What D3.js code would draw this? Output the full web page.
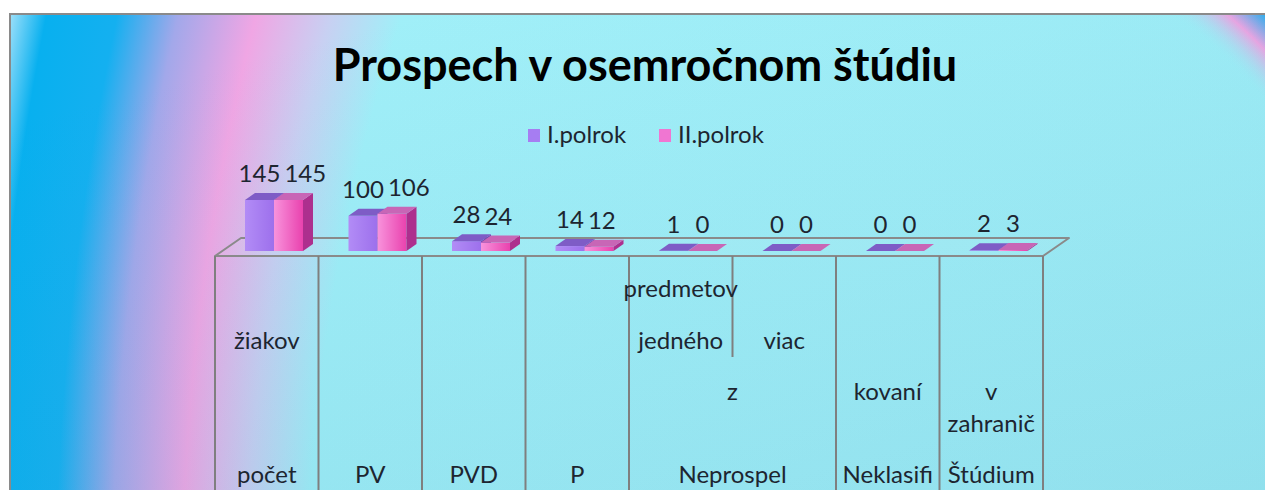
<!DOCTYPE html>
<html>
<head>
<meta charset="utf-8">
<script src="https://cdn.jsdelivr.net/npm/d3@7"></script>
<style>
	html, body { margin: 0; padding: 0; background: #fff; }
	svg { display: block; }
	text { font-family: Lato, "Open Sans", sans-serif; }
</style>
</head>
<body>
<div class="container"></div>
<script>
	// chart values
	var categories = ["počet žiakov", "PV", "PVD", "P", "Neprospel z jedného", "Neprospel z viac", "Neklasifikovaní", "Štúdium v zahraničí"];
	var seriesNames = ["I.polrok", "II.polrok"];
	var polrok1 = [145, 100, 28, 14, 1, 0, 0, 2];
	var polrok2 = [145, 106, 24, 12, 0, 0, 0, 3];

	// multi-level category labels: [text, first category, span]
	var labelsTop = [["predmetov", 4, 1]];
	var labelsUpper = [["žiakov", 0, 1], ["jedného", 4, 1], ["viac", 5, 1]];
	var labelsMid = [["z", 4, 2], ["kovaní", 6, 1], ["v", 7, 1]];
	var labelsWrap = [["zahranič", 7, 1]];
	var labelsBottom = [["počet", 0, 1], ["PV", 1, 1], ["PVD", 2, 1], ["P", 3, 1], ["Neprospel", 4, 2], ["Neklasifi", 6, 1], ["Štúdium", 7, 1]];

	var iWidth = 1265;
	var iHeight = 490;

	var oSVG = d3.select(".container")
		.append("svg")
		.attr("width", iWidth)
		.attr("height", iHeight);

	var defs = oSVG.append("defs");

	// elliptical background gradient (cyan centre, pink ring, blue rim)
	var bg = defs.append("radialGradient")
		.attr("id", "bgGrad")
		.attr("gradientUnits", "userSpaceOnUse")
		.attr("cx", 0).attr("cy", 0).attr("r", 1)
		.attr("gradientTransform", "translate(860,620) scale(936,1827)");
	[[0, "#a3f0f9"], [0.59, "#a0eff8"], [0.655, "#c8d0f2"], [0.725, "#f0a6e4"], [0.8, "#a2a8ea"], [0.86, "#14b0f0"], [0.93, "#08b0ef"], [0.985, "#e6f7ff"]]
		.forEach(function(s) {
			bg.append("stop").attr("offset", s[0]).attr("stop-color", s[1]);
		});

	// top right corner ring
	var corner = defs.append("radialGradient")
		.attr("id", "cornerGrad")
		.attr("gradientUnits", "userSpaceOnUse")
		.attr("cx", 900).attr("cy", 400).attr("r", 535);
	[[0, "#a0eff8", 0], [0.88, "#a0eff8", 0], [0.945, "#f0a6e4", 1], [1, "#10b0f0", 1]]
		.forEach(function(s) {
			corner.append("stop").attr("offset", s[0]).attr("stop-color", s[1]).attr("stop-opacity", s[2]);
		});

	var shade = defs.append("linearGradient")
		.attr("id", "shadeGrad")
		.attr("x1", 0.3).attr("y1", 0).attr("x2", 1).attr("y2", 1);
	shade.append("stop").attr("offset", 0).attr("stop-color", "#3a8fb0").attr("stop-opacity", 0);
	shade.append("stop").attr("offset", 1).attr("stop-color", "#3a8fb0").attr("stop-opacity", 0.16);

	function hGrad(id, c1, c2) {
		var g = defs.append("linearGradient").attr("id", id)
			.attr("x1", 0).attr("y1", 0).attr("x2", 1).attr("y2", 0);
		g.append("stop").attr("offset", 0).attr("stop-color", c1);
		g.append("stop").attr("offset", 1).attr("stop-color", c2);
	}
	hGrad("front0", "#b28cf6", "#9d70ec");
	hGrad("front1", "#f893dc", "#e942ae");

	var colors = [
		{ front: "url(#front0)", top: "#7e5cc6", side: "#6f48b4", legend: "#a67df2" },
		{ front: "url(#front1)", top: "#c866b6", side: "#ad2f8e", legend: "#f076d2" }
	];

	// background + frame
	oSVG.append("rect")
		.attr("x", 10).attr("y", 14)
		.attr("width", iWidth).attr("height", iHeight)
		.attr("fill", "url(#bgGrad)");
	oSVG.append("rect")
		.attr("x", 1100).attr("y", 14)
		.attr("width", 170).attr("height", 186)
		.attr("fill", "url(#cornerGrad)");
	oSVG.append("rect")
		.attr("x", 10).attr("y", 14)
		.attr("width", iWidth).attr("height", iHeight)
		.attr("fill", "url(#shadeGrad)");
	oSVG.append("rect")
		.attr("x", 10).attr("y", 14)
		.attr("width", iWidth + 10).attr("height", iHeight)
		.attr("fill", "none")
		.attr("stroke", "#8a8a8a")
		.attr("stroke-width", 2);

	// title
	oSVG.append("text")
		.attr("x", 645)
		.attr("y", 81)
		.attr("text-anchor", "middle")
		.style("font-size", "45px")
		.style("font-weight", "bold")
		.style("fill", "#000")
		.text("Prospech v osemročnom štúdiu");

	// legend
	var legendX = d3.scalePoint().domain(seriesNames).range([528, 659]);
	var legend = oSVG.selectAll("g.legend")
		.data(seriesNames)
		.enter()
		.append("g")
		.attr("class", "legend")
		.attr("transform", function(d) {
			return "translate(" + legendX(d) + ",129)";
		});
	legend.append("rect")
		.attr("width", 12).attr("height", 13)
		.attr("fill", function(d, i) {
			return colors[i].legend;
		});
	legend.append("text")
		.attr("x", 19).attr("y", 14)
		.style("font-size", "24px")
		.style("fill", "#1d2530")
		.text(function(d) {
			return d;
		});

	// scales
	var x = d3.scaleBand().domain(categories).range([215, 1043]);
	var xSeries = d3.scaleBand().domain(seriesNames).range([30, 88]);
	var y = d3.scaleLinear().domain([0, 145]).range([251, 200]);
	var depthX = 10, depthY = -7;
	var floorX = 26, floorY = -18;
	var floorFront = 256;

	// floor
	var x0 = x.range()[0], x1 = x.range()[1];
	oSVG.append("path")
		.attr("d", "M" + x0 + "," + floorFront + "L" + x1 + "," + floorFront +
			"L" + (x1 + floorX) + "," + (floorFront + floorY) +
			"L" + (x0 + floorX) + "," + (floorFront + floorY) + "Z")
		.attr("fill", "rgba(255,255,255,0.06)")
		.attr("stroke", "#8a8a8a")
		.attr("stroke-width", 2)
		.attr("stroke-linejoin", "round");

	// category dividers
	var bounds = categories.map(function(c) { return x(c); }).concat([x1]);
	oSVG.selectAll("line.div")
		.data(bounds)
		.enter()
		.append("line")
		.attr("class", "div")
		.attr("x1", function(d) { return d; })
		.attr("x2", function(d) { return d; })
		.attr("y1", floorFront)
		.attr("y2", function(d, i) {
			return i === 5 ? 357 : iHeight + 5;
		})
		.attr("stroke", "#7f7f7f")
		.attr("stroke-width", 2);

	// bars
	var aData = [];
	categories.forEach(function(c, i) {
		aData.push({ cat: c, s: 0, value: polrok1[i] });
		aData.push({ cat: c, s: 1, value: polrok2[i] });
	});

	var bars = oSVG.selectAll("g.bar")
		.data(aData)
		.enter()
		.append("g")
		.attr("class", "bar");

	bars.each(function(d) {
		var g = d3.select(this);
		var bx = x(d.cat) + xSeries(seriesNames[d.s]);
		var w = xSeries.bandwidth();
		var yb = y(0);
		var yt = y(d.value);
		d.cx = bx + w / 2;
		d.topY = yt + depthY;
		if (d.value > 0) {
			g.append("rect")
				.attr("x", bx).attr("y", yt)
				.attr("width", w).attr("height", yb - yt)
				.attr("fill", colors[d.s].front);
			g.append("path")
				.attr("d", "M" + (bx + w) + "," + yt + "l" + depthX + "," + depthY +
					"L" + (bx + w + depthX) + "," + (yb + depthY) + "L" + (bx + w) + "," + yb + "Z")
				.attr("fill", colors[d.s].side);
		}
		g.append("path")
			.attr("d", "M" + bx + "," + yt + "h" + w + "l" + depthX + "," + depthY +
				"h" + (-w) + "Z")
			.attr("fill", colors[d.s].top);
	});

	// data labels, second series pushed right when they would overlap
	var labels = oSVG.selectAll("text.val")
		.data(aData)
		.enter()
		.append("text")
		.attr("class", "val")
		.attr("text-anchor", "middle")
		.attr("y", function(d) { return d.topY - 11; })
		.style("font-size", "24px")
		.style("fill", "#1d2530")
		.text(function(d) { return d.value; });

	labels.each(function(d) {
		d.w = this.getComputedTextLength();
	});
	labels.attr("x", function(d, i) {
		if (d.s === 1) {
			var p = aData[i - 1];
			return Math.max(d.cx, p.cx + p.w / 2 + 4 + d.w / 2);
		}
		return d.cx;
	});

	// category labels
	var rows = [
		{ data: labelsTop, y: 297 },
		{ data: labelsUpper, y: 349 },
		{ data: labelsMid, y: 400 },
		{ data: labelsWrap, y: 432 },
		{ data: labelsBottom, y: 483 }
	];
	rows.forEach(function(r) {
		oSVG.selectAll(null)
			.data(r.data)
			.enter()
			.append("text")
			.attr("text-anchor", "middle")
			.attr("x", function(d) {
				return x(categories[d[1]]) + d[2] * x.bandwidth() / 2;
			})
			.attr("y", r.y)
			.style("font-size", "24px")
			.style("fill", "#1d2530")
			.text(function(d) { return d[0]; });
	});
</script>
</body>
</html>
